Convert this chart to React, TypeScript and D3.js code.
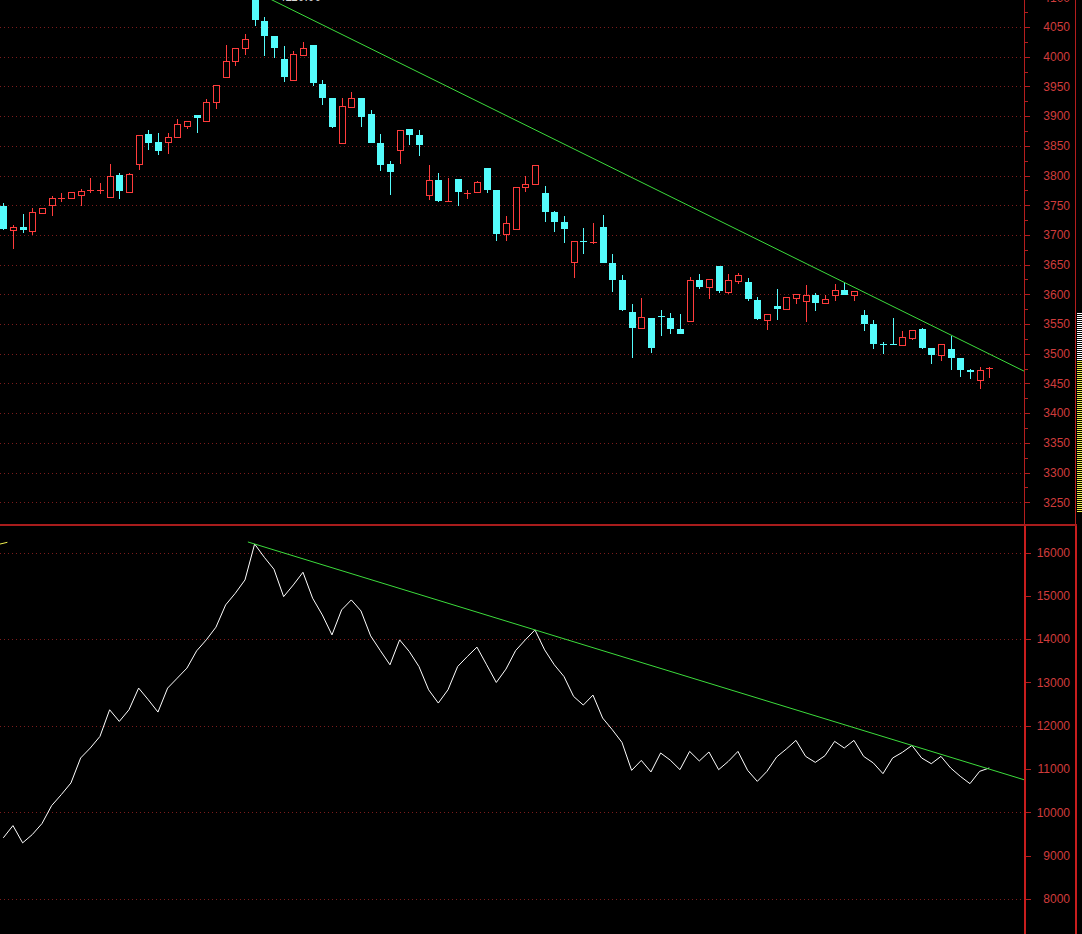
import { useRef, useEffect } from 'react';
import { scaleLinear, select, line, range } from 'd3';

// daily bars, oldest first
const opens = [
  3749, 3708, 3714, 3707, 3737, 3751, 3760, 3762, 3768, 3774, 3774, 3764, 3801, 3773, 3820, 3870, 3856, 3857, 3864, 3884,
  3902, 3892, 3924, 3966, 3992, 4014, 4102, 4060, 4035, 3996, 3961, 4003, 4020, 3954, 3930, 3854, 3916, 3930, 3904, 3855,
  3819, 3843, 3878, 3868, 3768, 3792, 3756, 3794, 3770, 3773, 3812, 3776, 3701, 3710, 3780, 3785, 3770, 3738, 3721, 3655,
  3689, 3687, 3713, 3653, 3624, 3570, 3544, 3560, 3563, 3560, 3542, 3555, 3624, 3613, 3648, 3604, 3623, 3621, 3590, 3557,
  3580, 3575, 3594, 3588, 3599, 3585, 3598, 3607, 3598, 3565, 3550, 3516, 3517, 3514, 3527, 3542, 3509, 3497, 3508, 3493,
  3473, 3455, 3474,
];
const highs = [
  3754, 3717, 3736, 3745, 3746, 3766, 3770, 3772, 3777, 3795, 3787, 3819, 3805, 3805, 3868, 3877, 3871, 3872, 3895, 3891,
  3902, 3929, 3953, 4020, 4014, 4038, 4110, 4066, 4035, 4018, 4010, 4024, 4020, 3961, 3930, 3930, 3940, 3930, 3910, 3870,
  3824, 3876, 3878, 3877, 3818, 3805, 3795, 3794, 3775, 3791, 3812, 3776, 3732, 3780, 3799, 3817, 3782, 3740, 3731, 3690,
  3712, 3720, 3733, 3668, 3632, 3584, 3593, 3560, 3574, 3569, 3567, 3629, 3634, 3626, 3648, 3634, 3636, 3627, 3596, 3566,
  3609, 3596, 3600, 3616, 3603, 3599, 3617, 3620, 3605, 3574, 3557, 3520, 3560, 3538, 3540, 3543, 3509, 3516, 3530, 3493,
  3475, 3477, 3478,
];
const lows = [
  3708, 3677, 3704, 3699, 3736, 3732, 3756, 3762, 3749, 3771, 3769, 3763, 3761, 3773, 3810, 3843, 3834, 3837, 3864, 3879,
  3872, 3892, 3912, 3966, 3985, 4003, 4052, 4002, 3998, 3958, 3961, 4001, 3951, 3919, 3880, 3854, 3916, 3882, 3854, 3808,
  3767, 3820, 3851, 3833, 3758, 3756, 3755, 3749, 3760, 3771, 3771, 3690, 3690, 3708, 3773, 3785, 3721, 3705, 3687, 3628,
  3668, 3685, 3652, 3604, 3572, 3492, 3544, 3502, 3529, 3533, 3534, 3555, 3609, 3592, 3602, 3600, 3617, 3588, 3557, 3540,
  3557, 3574, 3584, 3554, 3572, 3585, 3589, 3598, 3588, 3539, 3508, 3499, 3515, 3514, 3523, 3508, 3483, 3487, 3473, 3461,
  3457, 3441, 3459,
];
const closes = [
  3710, 3714, 3708, 3739, 3746, 3762, 3762, 3772, 3774, 3776, 3775, 3800, 3774, 3802, 3868, 3855, 3842, 3865, 3886, 3891,
  3896, 3923, 3953, 3993, 4014, 4030, 4062, 4035, 4015, 3965, 4005, 4014, 3955, 3930, 3882, 3917, 3930, 3899, 3854, 3817,
  3806, 3876, 3869, 3851, 3792, 3757, 3757, 3773, 3771, 3789, 3776, 3701, 3720, 3780, 3785, 3817, 3739, 3722, 3710, 3690,
  3688, 3688, 3653, 3624, 3574, 3544, 3561, 3510, 3562, 3542, 3534, 3624, 3613, 3626, 3606, 3624, 3633, 3592, 3558, 3566,
  3576, 3595, 3600, 3599, 3586, 3592, 3607, 3598, 3605, 3550, 3516, 3514, 3515, 3528, 3540, 3510, 3497, 3516, 3493, 3473,
  3469, 3473, 3476,
];
// lower indicator (cumulative volume line)
const obv = [
  9412, 9695, 9296, 9488, 9741, 10156, 10410, 10680, 11256, 11486, 11754, 12369, 12100, 12369, 12870, 12600, 12316, 12870,
  13100, 13331, 13729, 13983, 14276, 14790, 15059, 15366, 16196, 15889, 15613, 14981, 15251, 15544, 14944, 14559, 14098,
  14675, 14905, 14651, 14075, 13736, 13407, 13983, 13713, 13367, 12830, 12524, 12830, 13367, 13598, 13815, 13407, 12999,
  13308, 13736, 13983, 14213, 13752, 13407, 13137, 12676, 12478, 12708, 12178, 11908, 11616, 10970, 11200, 10933, 11371,
  11205, 10986, 11408, 11187, 11394, 10986, 11177, 11408, 10970, 10716, 10947, 11279, 11463, 11662, 11293, 11154, 11309,
  11639, 11486, 11662, 11293, 11141, 10894, 11256, 11385, 11546, 11256, 11124, 11293, 11025, 10832, 10663, 10947, 11025,
];
const obvMaStub = [
  { i: -0.34, v: 16195 },
  { i: 0.42, v: 16235 },
];

const priceTicks = [4100, 4050, 4000, 3950, 3900, 3850, 3800, 3750, 3700, 3650, 3600, 3550, 3500, 3450, 3400, 3350, 3300, 3250];
const volTicks = [16000, 15000, 14000, 13000, 12000, 11000, 10000, 9000, 8000];
const volGrid = [16000, 14000, 12000, 10000, 8000];

// trend lines: two touch points each [bar index, value]
const priceTrend = [
  [26, 4110],
  [87, 3620],
];
const volTrend = [
  [26, 16196],
  [94, 11546],
];
const trendStart = 25.3;
// chip distribution bands [top price, bottom price]
const chipBands = [
  [3569, 3487],
  [3487, 3233],
];
const highLabel = '4110.00';

const W = 1082;
const H = 934;
const PLOT_R = 1024;
const FRAME_R = 1075;
const DIV_Y = 524;

const UP = '#ff3c3c';
const DOWN = '#54fcfc';
const GRID = '#7c1c1c';
const AXIS = '#b41e1e';
const LABEL = '#d03c3c';
const TREND = '#3cdc3c';
const chipColors = ['#ffffff', '#f0f050'];

const App = () => {
  const ref = useRef<SVGSVGElement>(null);

  useEffect(() => {
    document.body.style.margin = '0';
    document.body.style.background = '#000';
    if (!ref.current) return;
    const svg = select(ref.current);
    svg.selectAll('*').remove();

    const n = closes.length;
    const x = scaleLinear().domain([0, n - 1]).range([3.3, 989.3]);
    const yP = scaleLinear().domain([3250, 4050]).range([502.2, 27]);
    const yV = scaleLinear().domain([8000, 16000]).range([899, 552.5]);
    const px = (i: number) => Math.round(x(i)) + 0.5;
    const py = (v: number) => Math.round(yP(v)) + 0.5;
    const lastIdx = x.invert(PLOT_R);

    const defs = svg.append('defs');
    defs.append('clipPath').attr('id', 'clipTop').append('rect').attr('x', 0).attr('y', 0).attr('width', PLOT_R).attr('height', DIV_Y - 1);
    defs.append('clipPath').attr('id', 'clipBot').append('rect').attr('x', 0).attr('y', DIV_Y + 1).attr('width', PLOT_R).attr('height', H - DIV_Y);

    svg.append('rect').attr('width', W).attr('height', H).attr('fill', '#000');

    // ---- upper panel ----
    const top = svg.append('g').attr('clip-path', 'url(#clipTop)');
    top.selectAll('line.grid')
      .data(priceTicks)
      .join('line')
      .attr('x1', 0).attr('x2', PLOT_R)
      .attr('y1', (d) => py(d)).attr('y2', (d) => py(d))
      .attr('stroke', GRID).attr('stroke-dasharray', '1 3');

    const bars = top.append('g').attr('shape-rendering', 'crispEdges');
    closes.forEach((c, i) => {
      const o = opens[i];
      const cx = px(i);
      const up = c >= o;
      const bTop = Math.round(yP(Math.max(o, c)));
      const bBot = Math.round(yP(Math.min(o, c)));
      const hY = Math.round(yP(highs[i]));
      const lY = Math.round(yP(lows[i]));
      if (up) {
        if (hY < bTop) bars.append('line').attr('x1', cx).attr('x2', cx).attr('y1', hY).attr('y2', bTop).attr('stroke', UP);
        if (lY > bBot) bars.append('line').attr('x1', cx).attr('x2', cx).attr('y1', bBot).attr('y2', lY).attr('stroke', UP);
        if (bBot - bTop < 2) {
          bars.append('line').attr('x1', cx - 3.5).attr('x2', cx + 3.5).attr('y1', bTop + 0.5).attr('y2', bTop + 0.5).attr('stroke', UP);
        } else {
          bars.append('rect')
            .attr('x', cx - 3).attr('y', bTop + 0.5)
            .attr('width', 6).attr('height', bBot - bTop)
            .attr('fill', '#000').attr('stroke', UP);
        }
      } else {
        bars.append('line').attr('x1', cx).attr('x2', cx).attr('y1', hY).attr('y2', lY).attr('stroke', DOWN);
        bars.append('rect')
          .attr('x', cx - 3.5).attr('y', bTop)
          .attr('width', 7).attr('height', Math.max(1, bBot - bTop))
          .attr('fill', DOWN);
      }
    });

    const [[a0, p0], [a1, p1]] = priceTrend;
    const sP = (p1 - p0) / (a1 - a0);
    top.append('line')
      .attr('x1', x(trendStart)).attr('y1', yP(p0 + (trendStart - a0) * sP))
      .attr('x2', x(lastIdx)).attr('y2', yP(p0 + (lastIdx - a0) * sP))
      .attr('stroke', TREND).attr('stroke-width', 1);

    top.append('text')
      .attr('x', x(26) + 24).attr('y', 1)
      .attr('fill', '#d8d8d8').attr('font-size', 12)
      .attr('font-family', '"Liberation Sans", Arial, sans-serif')
      .text(highLabel);

    // ---- lower panel ----
    const bot = svg.append('g').attr('clip-path', 'url(#clipBot)');
    bot.selectAll('line.grid')
      .data(volGrid)
      .join('line')
      .attr('x1', 0).attr('x2', PLOT_R)
      .attr('y1', (d) => Math.round(yV(d)) + 0.5).attr('y2', (d) => Math.round(yV(d)) + 0.5)
      .attr('stroke', GRID).attr('stroke-dasharray', '1 3');

    const vLine = line<number>().x((_, i) => x(i)).y((d) => yV(d));
    bot.append('path').attr('d', vLine(obv)).attr('fill', 'none').attr('stroke', '#fff').attr('stroke-width', 1);

    const stub = line<{ i: number; v: number }>().x((d) => x(d.i)).y((d) => yV(d.v));
    bot.append('path').attr('d', stub(obvMaStub)).attr('fill', 'none').attr('stroke', '#f0f050').attr('stroke-width', 1);

    const [[b0, v0], [b1, v1]] = volTrend;
    const sV = (v1 - v0) / (b1 - b0);
    bot.append('line')
      .attr('x1', x(trendStart)).attr('y1', yV(v0 + (trendStart - b0) * sV))
      .attr('x2', x(lastIdx)).attr('y2', yV(v0 + (lastIdx - b0) * sV))
      .attr('stroke', TREND).attr('stroke-width', 1);

    // ---- frame and axes ----
    const frame = svg.append('g').attr('shape-rendering', 'crispEdges');
    frame.append('line').attr('x1', PLOT_R + 0.5).attr('x2', PLOT_R + 0.5).attr('y1', 0).attr('y2', DIV_Y).attr('stroke', AXIS);
    frame.append('line').attr('x1', FRAME_R + 0.5).attr('x2', FRAME_R + 0.5).attr('y1', 0).attr('y2', DIV_Y).attr('stroke', AXIS);
    frame.append('line').attr('x1', PLOT_R + 1).attr('x2', PLOT_R + 1).attr('y1', DIV_Y).attr('y2', H).attr('stroke', '#c81e1e').attr('stroke-width', 2);
    frame.append('line').attr('x1', FRAME_R + 1).attr('x2', FRAME_R + 1).attr('y1', DIV_Y).attr('y2', H).attr('stroke', '#c81e1e').attr('stroke-width', 2);
    frame.append('line').attr('x1', 0).attr('x2', FRAME_R + 2).attr('y1', DIV_Y + 1).attr('y2', DIV_Y + 1).attr('stroke', '#a81c1c').attr('stroke-width', 2);

    const font = '"Liberation Sans", Arial, sans-serif';
    const minorP = range(4075, 3240, -50);
    frame.selectAll('line.minorP')
      .data(minorP)
      .join('line')
      .attr('x1', PLOT_R + 1).attr('x2', PLOT_R + 4)
      .attr('y1', (d) => py(d)).attr('y2', (d) => py(d))
      .attr('stroke', AXIS);
    frame.selectAll('line.tickP')
      .data(priceTicks)
      .join('line')
      .attr('x1', PLOT_R + 1).attr('x2', PLOT_R + 6)
      .attr('y1', (d) => py(d)).attr('y2', (d) => py(d))
      .attr('stroke', AXIS);
    svg.append('g').selectAll('text')
      .data(priceTicks)
      .join('text')
      .attr('x', 1070).attr('y', (d) => yP(d)).attr('dy', '0.36em')
      .attr('text-anchor', 'end').attr('fill', LABEL)
      .attr('font-size', 12).attr('font-family', font)
      .text((d) => d);

    frame.selectAll('line.tickV')
      .data(volTicks)
      .join('line')
      .attr('x1', PLOT_R + 2).attr('x2', PLOT_R + 7)
      .attr('y1', (d) => Math.round(yV(d)) + 0.5).attr('y2', (d) => Math.round(yV(d)) + 0.5)
      .attr('stroke', AXIS);
    svg.append('g').selectAll('text')
      .data(volTicks)
      .join('text')
      .attr('x', 1070).attr('y', (d) => yV(d)).attr('dy', '0.36em')
      .attr('text-anchor', 'end').attr('fill', LABEL)
      .attr('font-size', 12).attr('font-family', font)
      .text((d) => d);

    // chip distribution stripes at the right edge
    const chips = svg.append('g').attr('shape-rendering', 'crispEdges');
    chipBands.forEach(([hi, lo], k) => {
      const yy = range(Math.round(yP(hi)), Math.round(yP(lo)), 2);
      chips.selectAll(`line.c${k}`)
        .data(yy)
        .join('line')
        .attr('x1', FRAME_R + 2).attr('x2', W)
        .attr('y1', (d) => d + 0.5).attr('y2', (d) => d + 0.5)
        .attr('stroke', chipColors[k]);
    });
  }, []);

  return <svg ref={ref} width={W} height={H} style={{ display: 'block', background: '#000' }} />;
};

export default App;
